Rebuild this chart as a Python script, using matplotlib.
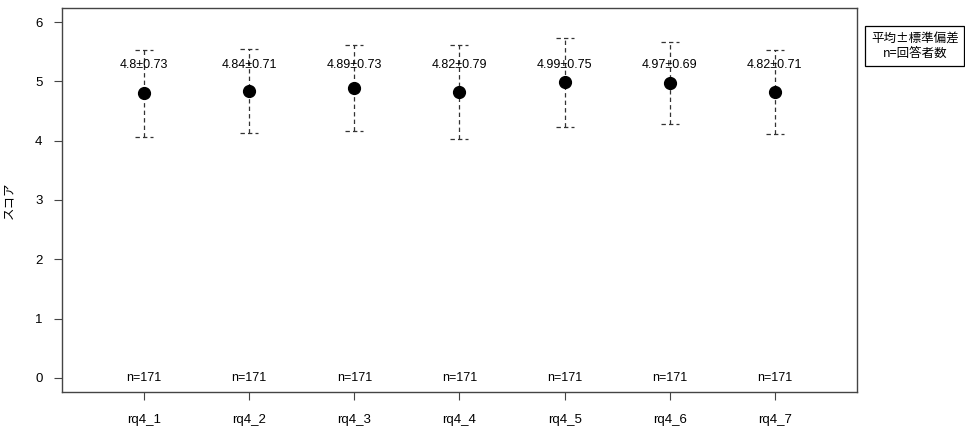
import matplotlib
matplotlib.use("Agg")
from matplotlib import pyplot as plt

plt.rcParams['font.family'] = ['Liberation Sans', 'Noto Sans CJK JP', 'DejaVu Sans']

items = ['rq4_1', 'rq4_2', 'rq4_3', 'rq4_4', 'rq4_5', 'rq4_6', 'rq4_7']
means = [4.80, 4.84, 4.89, 4.82, 4.99, 4.97, 4.82]
sds = [0.73, 0.71, 0.73, 0.79, 0.75, 0.69, 0.71]
ns = [171, 171, 171, 171, 171, 171, 171]
mean_labels = ['4.8±0.73', '4.84±0.71', '4.89±0.73', '4.82±0.79',
               '4.99±0.75', '4.97±0.69', '4.82±0.71']

fig = plt.figure(figsize=(9.65, 4.3), dpi=100)
ax = fig.add_axes([0.0642, 0.0884, 0.8238, 0.893])

xs = list(range(1, len(items) + 1))
eb = ax.errorbar(xs, means, yerr=sds, fmt='o', color='black', ms=8.5,
                 ecolor='#333333', elinewidth=0.9, capsize=0, zorder=3)
for line in eb[2]:
    line.set_linestyle((0, (3.5, 2.5)))
# dashed caps
for x, m, s in zip(xs, means, sds):
    for yv in (m - s, m + s):
        ax.plot([x - 0.085, x + 0.085], [yv, yv], color='#333333', lw=0.9,
                ls=(0, (3.5, 2.5)), zorder=3)

for x, lab in zip(xs, mean_labels):
    ax.text(x, 5.27, lab, ha='center', va='center', fontsize=9, zorder=4)
for x, n in zip(xs, ns):
    ax.text(x, 0, 'n=%d' % n, ha='center', va='center', fontsize=9)

ax.set_xlim(0.22, 7.78)
ax.set_ylim(-0.24, 6.24)
ax.set_xticks(xs)
ax.set_xticklabels(items, fontsize=9.5)
ax.set_yticks(range(0, 7))
ax.set_yticklabels([str(i) for i in range(0, 7)], fontsize=9.5)
ax.tick_params(axis='x', length=6, pad=10, color='#444444')
ax.tick_params(axis='y', length=6, pad=8, color='#444444')
for sp in ax.spines.values():
    sp.set_color('#444444')
    sp.set_linewidth(1.0)
ax.set_ylabel('スコア', fontsize=9, family=['Noto Sans CJK JP'], labelpad=14)

fig.text(0.948, 0.893, '平均±標準偏差\nn=回答者数', ha='center', va='center',
         fontsize=9, family=['Noto Sans CJK JP', 'DejaVu Sans'],
         linespacing=1.25,
         bbox=dict(boxstyle='square,pad=0.45', fc='white', ec='black', lw=0.9))

fig.savefig('out.png', dpi=100)
